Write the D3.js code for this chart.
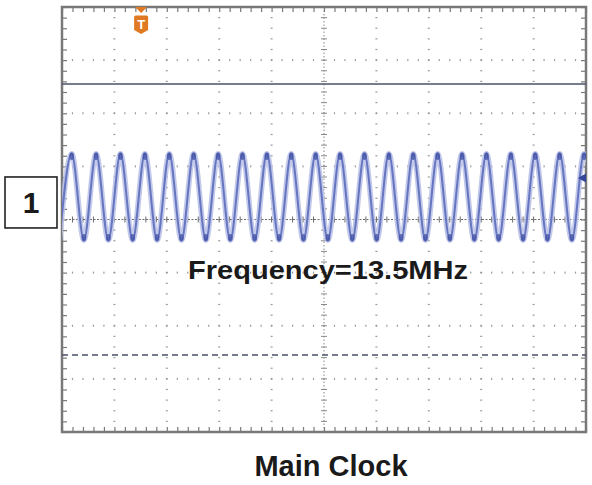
<!DOCTYPE html>
<html>
<head>
<meta charset="utf-8">
<script src="https://cdn.jsdelivr.net/npm/d3@7"></script>
<style>
  html, body { margin: 0; padding: 0; background: #ffffff; }
  svg { display: block; }
</style>
</head>
<body>
<svg id="chart" width="592" height="485"></svg>
<script>
// ---- data (in scope divisions) ----
const xMajorTicks = [0, 1, 2, 3, 4, 5, 6, 7, 8, 9, 10];
const yMajorTicks = [-4, -3, -2, -1, 0, 1, 2, 3, 4];
const peakTimes = [0.185, 0.651, 1.116, 1.582, 2.047, 2.513, 2.979, 3.444, 3.910, 4.375, 4.841,
                   5.307, 5.772, 6.238, 6.703, 7.169, 7.635, 8.100, 8.566, 9.031, 9.497, 9.963];
const troughTimes = [-0.048, 0.418, 0.884, 1.349, 1.815, 2.280, 2.746, 3.212, 3.677, 4.143, 4.608,
                     5.074, 5.540, 6.005, 6.471, 6.936, 7.402, 7.868, 8.333, 8.799, 9.264, 9.730, 10.196];
const peakLevel = 1.24;
const troughLevel = -0.39;
const cursorLevels = [2.55, -2.55];   // solid (upper) and dashed (lower) cursors
const triggerTime = 1.51;
const triggerLevel = 0.78;
const channelLabel = "1";
const channelLevel = 0.33;
const annotation = "Frequency=13.5MHz";
const title = "Main Clock";

// ---- layout ----
const svg = d3.select("#chart");
const pLeft = 62, pRight = 586, pTop = 7, pBottom = 432;
const x = d3.scaleLinear().domain([0, 10]).range([pLeft, pRight]);
const y = d3.scaleLinear().domain([-4, 4]).range([pBottom, pTop]);

const minorX = d3.range(0, 50.5).map(i => i / 5);
const minorY = d3.range(-20, 20.5).map(i => i / 5);

svg.append("defs").append("clipPath").attr("id", "plotclip")
  .append("rect").attr("x", pLeft).attr("y", pTop).attr("width", pRight - pLeft).attr("height", pBottom - pTop);

svg.append("rect").attr("x", pLeft).attr("y", pTop).attr("width", pRight - pLeft).attr("height", pBottom - pTop)
  .attr("fill", "#ffffff");

const grid = svg.append("g");
xMajorTicks.filter(v => v > 0 && v < 10 && v !== 5).forEach(v => {
  grid.selectAll(null).data(minorY.filter(m => m > -4 && m < 4)).join("rect")
    .attr("x", x(v) - 1).attr("y", d => y(d) - 0.6).attr("width", 2).attr("height", 1.2)
    .attr("fill", "#9a9a9a");
});
yMajorTicks.filter(v => v > -4 && v < 4 && v !== 0).forEach(v => {
  grid.selectAll(null).data(minorX.filter(m => m > 0 && m < 10)).join("rect")
    .attr("x", d => x(d) - 0.6).attr("y", y(v) - 1).attr("width", 1.2).attr("height", 2)
    .attr("fill", "#9a9a9a");
});

const cx = x(5), cy = y(0);
grid.append("line").attr("x1", cx).attr("x2", cx).attr("y1", pTop).attr("y2", pBottom)
  .attr("stroke", "#8a8a8a").attr("stroke-width", 1).attr("stroke-dasharray", "1.5,2");
grid.append("line").attr("x1", pLeft).attr("x2", pRight).attr("y1", cy).attr("y2", cy)
  .attr("stroke", "#6a6a6a").attr("stroke-width", 1).attr("stroke-dasharray", "2,1.5");
grid.selectAll(null).data(minorY).join("line")
  .attr("x1", cx - 3).attr("x2", cx + 3).attr("y1", d => y(d)).attr("y2", d => y(d))
  .attr("stroke", "#8a8a8a").attr("stroke-width", 1);
grid.selectAll(null).data(minorX).join("line")
  .attr("y1", cy - 3).attr("y2", cy + 3).attr("x1", d => x(d)).attr("x2", d => x(d))
  .attr("stroke", "#6a6a6a").attr("stroke-width", 1);

const tickStyle = g => {
  g.select(".domain").remove();
  g.selectAll(".tick line").attr("stroke", "#7a7a7a").attr("stroke-width", 1.2);
};
svg.append("g").attr("transform", `translate(0,${pTop})`)
  .call(d3.axisBottom(x).tickValues(minorX).tickSize(5).tickFormat("")).call(tickStyle);
svg.append("g").attr("transform", `translate(0,${pBottom})`)
  .call(d3.axisTop(x).tickValues(minorX).tickSize(5).tickFormat("")).call(tickStyle);
svg.append("g").attr("transform", `translate(${pLeft},0)`)
  .call(d3.axisRight(y).tickValues(minorY).tickSize(5).tickFormat("")).call(tickStyle);
svg.append("g").attr("transform", `translate(${pRight},0)`)
  .call(d3.axisLeft(y).tickValues(minorY).tickSize(5).tickFormat("")).call(tickStyle);

svg.append("rect").attr("x", pLeft).attr("y", pTop).attr("width", pRight - pLeft).attr("height", pBottom - pTop)
  .attr("fill", "none").attr("stroke", "#787878").attr("stroke-width", 2.5);

svg.append("line").attr("x1", pLeft).attr("x2", pRight).attr("y1", y(cursorLevels[0])).attr("y2", y(cursorLevels[0]))
  .attr("stroke", "#4a5068").attr("stroke-width", 1.6);
svg.append("line").attr("x1", pLeft).attr("x2", pRight).attr("y1", y(cursorLevels[1])).attr("y2", y(cursorLevels[1]))
  .attr("stroke", "#4a5068").attr("stroke-width", 1.6).attr("stroke-dasharray", "6,4");

const pts = peakTimes.map(t => [t, peakLevel]).concat(troughTimes.map(t => [t, troughLevel]))
  .sort((a, b) => a[0] - b[0]);
const line = d3.line().x(d => x(d[0])).y(d => y(d[1])).curve(d3.curveMonotoneX);
const wave = svg.append("g").attr("clip-path", "url(#plotclip)");
wave.append("path").attr("d", line(pts)).attr("fill", "none")
  .attr("stroke", "#b8c0e6").attr("stroke-width", 5.5).attr("stroke-opacity", 0.85);
wave.append("path").attr("d", line(pts)).attr("fill", "none")
  .attr("stroke", "#6675bf").attr("stroke-width", 2);
wave.selectAll(null).data(pts).join("ellipse")
  .attr("cx", d => x(d[0])).attr("cy", d => y(d[1]) + (d[1] > 0 ? 2.5 : -2.5))
  .attr("rx", 2.4).attr("ry", 3.8).attr("fill", "#3f4fa4").attr("opacity", 0.75);

const tx = x(triggerTime);
svg.append("path").attr("d", `M${tx - 6},${pTop} L${tx + 6},${pTop} L${tx},${pTop + 6} Z`).attr("fill", "#e07a22");
svg.append("path")
  .attr("d", `M${tx - 7},${pTop + 10} Q${tx - 7},${pTop + 8.5} ${tx - 5.5},${pTop + 8.5} L${tx + 5.5},${pTop + 8.5} Q${tx + 7},${pTop + 8.5} ${tx + 7},${pTop + 10} L${tx + 7},${pTop + 23} L${tx},${pTop + 27} L${tx - 7},${pTop + 23} Z`)
  .attr("fill", "#e07a22");
svg.append("text").attr("x", tx).attr("y", pTop + 22).attr("text-anchor", "middle")
  .attr("font-family", "Liberation Sans, Arial, sans-serif").attr("font-weight", "bold")
  .attr("font-size", 13).attr("fill", "#ffffff").text("T");

const ty = y(triggerLevel);
svg.append("path").attr("d", `M${pRight - 8},${ty} L${pRight},${ty - 4.5} L${pRight},${ty + 4.5} Z`).attr("fill", "#34469a");

const chY = y(channelLevel);
svg.append("rect").attr("x", 5).attr("y", chY - 25).attr("width", 52).attr("height", 51)
  .attr("fill", "#ffffff").attr("stroke", "#222").attr("stroke-width", 1.6);
svg.append("text").attr("x", 31).attr("y", chY + 11).attr("text-anchor", "middle")
  .attr("font-family", "Liberation Sans, Arial, sans-serif").attr("font-weight", "bold")
  .attr("font-size", 30).attr("fill", "#1a1a1a").text(channelLabel);

svg.append("text").attr("x", 188).attr("y", 278.5)
  .attr("font-family", "Liberation Sans, Arial, sans-serif").attr("font-weight", "bold")
  .attr("font-size", 25).attr("fill", "#1a1a1a")
  .attr("textLength", 280).attr("lengthAdjust", "spacingAndGlyphs").text(annotation);

svg.append("text").attr("x", 331).attr("y", 476).attr("text-anchor", "middle")
  .attr("font-family", "Liberation Sans, Arial, sans-serif").attr("font-weight", "bold")
  .attr("font-size", 29).attr("fill", "#1a1a1a").text(title);
</script>
</body>
</html>
